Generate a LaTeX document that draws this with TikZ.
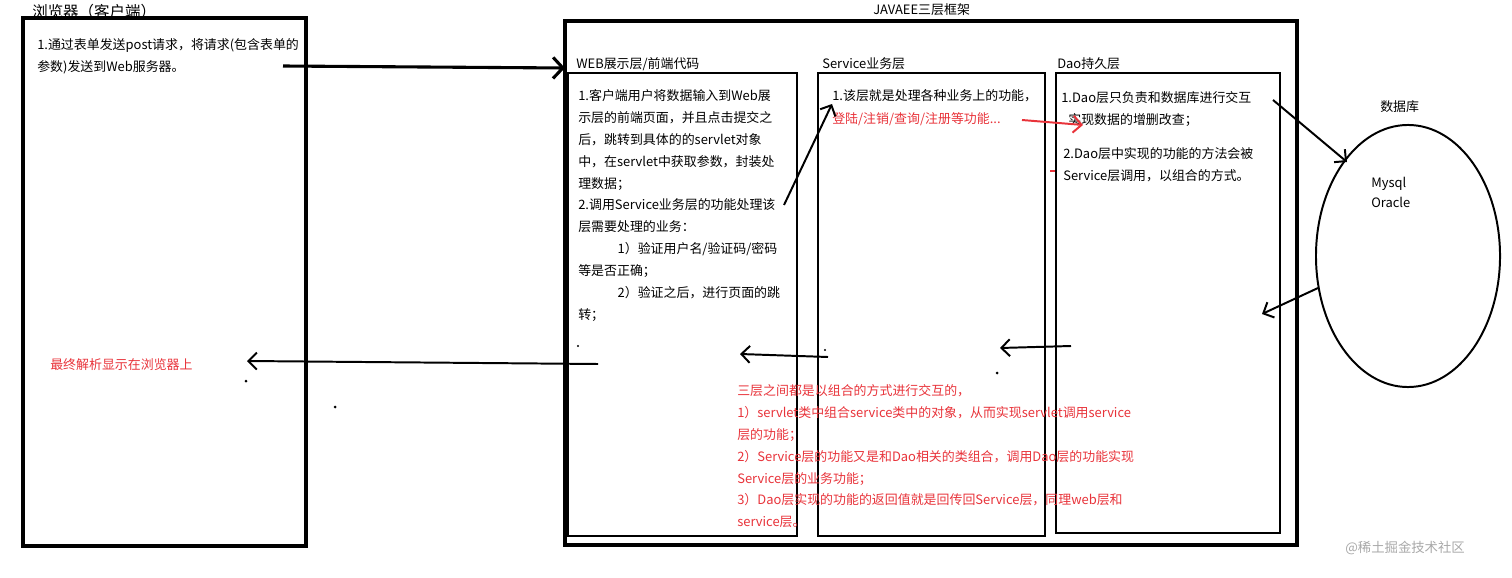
\documentclass[tikz,border=0pt]{standalone}
\usepackage{fontspec}
\setmainfont{Noto Sans CJK SC}
\usetikzlibrary{arrows.meta,shapes.geometric}
\definecolor{notered}{HTML}{E8333A}
\definecolor{markgray}{HTML}{A8A8A8}
\tikzset{
  txt/.style={anchor=north west,inner sep=0pt,align=left,font=\fontsize{9.2}{15.6}\selectfont},
  redtxt/.style={txt,text=notered},
  flow/.style={line width=1.4pt,-{Straight Barb[length=6pt,width=12pt]}},
  redflow/.style={flow,notered},
  stray/.style={fill,radius=1.2},
}

\begin{document}
\begin{tikzpicture}[x=0.025cm,y=-0.025cm]
  \useasboundingbox (0,0) rectangle (1512,578);
  \draw[line width=2.8pt] (23,18) rectangle (306,546);
  \draw[line width=2.8pt] (565,21) rectangle (1297,545);
  \draw[line width=1.8pt] (568,73) rectangle (797,536);
  \draw[line width=1.8pt] (818,73) rectangle (1045,536);
  \draw[line width=1.8pt] (1056,73) rectangle (1280,533);
  \node[draw,ellipse,line width=1.4pt,minimum width=4.6cm,minimum height=6.55cm] (db) at (1408,256) {};

  \node[txt,font=\fontsize{11}{13}\selectfont] (browsertitle) at (32,4) {浏览器（客户端）};
  \node[txt] (browsertxt) at (37,38) {1.通过表单发送post请求，将请求(包含表单的\\参数)发送到Web服务器。};
  \node[txt] (frametitle) at (873,3) {JAVAEE三层框架};
  \node[txt] (webtitle) at (576,57) {WEB展示层/前端代码};
  \node[txt] (servicetitle) at (822,57) {Service业务层};
  \node[txt] (daotitle) at (1057,57) {Dao持久层};
  \node[txt] (dbtitle) at (1380,100) {数据库};
  \node[txt,font=\fontsize{9.2}{14.2}\selectfont] (dbkinds) at (1371,177) {Mysql\\Oracle};

  \node[txt] (webtxt) at (578,89) {1.客户端用户将数据输入到Web展\\示层的前端页面，并且点击提交之\\后，跳转到具体的的servlet对象\\中，在servlet中获取参数，封装处\\理数据；\\2.调用Service业务层的功能处理该\\层需要处理的业务：\\\hspace*{28pt}1）验证用户名/验证码/密码\\等是否正确；\\\hspace*{28pt}2）验证之后，进行页面的跳\\转；};
  \node[txt] (servicetxt) at (832,89) {1.该层就是处理各种业务上的功能，};
  \node[redtxt] (servicered) at (832,112) {登陆/注销/查询/注册等功能...};
  \node[txt] (daotxt) at (1061,91) {1.Dao层只负责和数据库进行交互\\\hspace*{5pt}实现数据的增删改查；};
  \node[txt] (daotxt2) at (1063,147) {2.Dao层中实现的功能的方法会被\\Service层调用，以组合的方式。};
  \node[redtxt] (finaltxt) at (50,358) {最终解析显示在浏览器上};
  \node[redtxt] (combinetxt) at (737,384) {三层之间都是以组合的方式进行交互的，\\1）servlet类中组合service类中的对象，从而实现servlet调用service\\层的功能；\\2）Service层的功能又是和Dao相关的类组合，调用Dao层的功能实现\\Service层的业务功能；\\3）Dao层实现的功能的返回值就是回传回Service层，同理web层和\\service层。};
  \node[txt,text=markgray,font=\fontsize{9.5}{12}\selectfont] (mark) at (1345,541) {@稀土掘金技术社区};

  \coordinate (reqstart) at (283,66);
  \coordinate (reqend) at (565,68);
  \coordinate (callweb) at (784,205);
  \coordinate (callsvc) at (832,104);
  \coordinate (svcout) at (1022,120);
  \coordinate (daoin) at (1083,125);
  \coordinate (daoout) at (1273,100);
  \coordinate (dbin) at (1347,162);
  \coordinate (dbout) at (1318,288);
  \coordinate (daoback) at (1262,314);
  \coordinate (daoret) at (1071,346);
  \coordinate (svcback) at (1000,348);
  \coordinate (svcret) at (828,357);
  \coordinate (webback) at (740,354);
  \coordinate (webret) at (598,364);
  \coordinate (browserback) at (247,361);

  \draw[line width=2.2pt,-{Straight Barb[length=7pt,width=15pt]}] (reqstart) -- (reqend);
  \draw[flow] (callweb) -- (callsvc);
  \draw[redflow] (svcout) -- (daoin);
  \draw[flow] (daoout) -- (dbin);
  \draw[flow] (dbout) -- (daoback);
  \draw[flow] (daoret) -- (svcback);
  \draw[flow] (svcret) -- (webback);
  \draw[flow] (webret) -- (browserback);

  \fill (578,346) circle[radius=1.2];
  \fill (825,350) circle[radius=1.2];
  \fill (997,373) circle[radius=1.5];
  \fill (246,381) circle[radius=1.5];
  \fill (335,407) circle[radius=1.5];
  \draw[notered,line width=1pt] (1050,171) -- (1055,171);
\end{tikzpicture}
\end{document}
